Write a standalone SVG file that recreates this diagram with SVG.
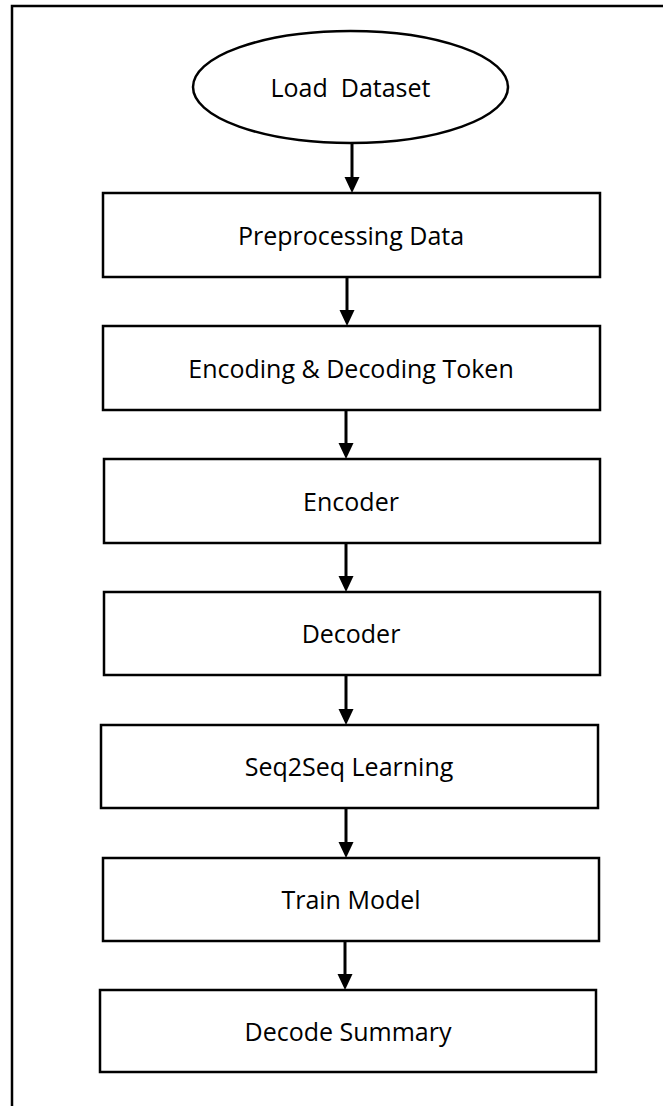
<svg xmlns="http://www.w3.org/2000/svg" width="663" height="1106" viewBox="0 0 663 1106">
<style>
.shape{fill:#fff;stroke:#000;stroke-width:2.5}
.lbl{font-family:"Open Sans","Liberation Sans",sans-serif;font-size:25px;fill:#000;text-anchor:middle;white-space:pre}
.conn{stroke:#000;stroke-width:3;fill:none}
.head{fill:#000}
</style>
<rect width="663" height="1106" fill="#fff"/>
<path d="M12,1106 V6 H663" fill="none" stroke="#000" stroke-width="2.5"/>
<g id="load-dataset"><ellipse class="shape" cx="350.5" cy="87" rx="157.5" ry="56"/><text class="lbl" x="350.5" y="97" xml:space="preserve">Load  Dataset</text></g>
<g id="preprocessing"><rect class="shape" x="103" y="193" width="497" height="84"/><text class="lbl" x="351" y="245">Preprocessing Data</text></g>
<g id="encoding-decoding"><rect class="shape" x="103" y="326" width="497" height="84"/><text class="lbl" x="351" y="378">Encoding &amp; Decoding Token</text></g>
<g id="encoder"><rect class="shape" x="104" y="459" width="496" height="84"/><text class="lbl" x="351" y="511">Encoder</text></g>
<g id="decoder"><rect class="shape" x="104" y="592" width="496" height="83"/><text class="lbl" x="351" y="643">Decoder</text></g>
<g id="seq2seq"><rect class="shape" x="101" y="725" width="497" height="83"/><text class="lbl" x="349" y="776">Seq2Seq Learning</text></g>
<g id="train-model"><rect class="shape" x="103" y="858" width="496" height="83"/><text class="lbl" x="351" y="909">Train Model</text></g>
<g id="decode-summary"><rect class="shape" x="100" y="990" width="496" height="82"/><text class="lbl" x="348" y="1041">Decode Summary</text></g>
<g id="connectors">
<line class="conn" x1="352" y1="143" x2="352" y2="178"/><polygon class="head" points="344.5,177 359.5,177 352,193"/>
<line class="conn" x1="347" y1="277" x2="347" y2="311"/><polygon class="head" points="339.5,310 354.5,310 347,326"/>
<line class="conn" x1="346" y1="410" x2="346" y2="444"/><polygon class="head" points="338.5,443 353.5,443 346,459"/>
<line class="conn" x1="346" y1="543" x2="346" y2="577"/><polygon class="head" points="338.5,576 353.5,576 346,592"/>
<line class="conn" x1="346" y1="675" x2="346" y2="710"/><polygon class="head" points="338.5,709 353.5,709 346,725"/>
<line class="conn" x1="346" y1="808" x2="346" y2="843"/><polygon class="head" points="338.5,842 353.5,842 346,858"/>
<line class="conn" x1="345" y1="941" x2="345" y2="975"/><polygon class="head" points="337.5,974 352.5,974 345,990"/>
</g>
</svg>
